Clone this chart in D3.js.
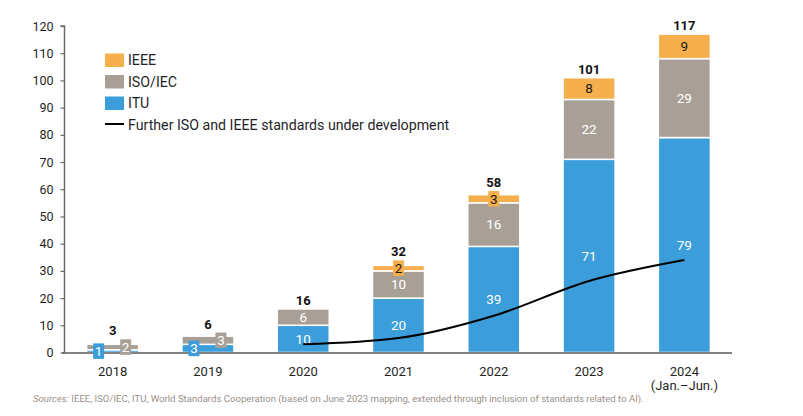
<!DOCTYPE html>
<html>
<head>
<meta charset="utf-8">
<script src="https://cdn.jsdelivr.net/npm/d3@7"></script>
<style>
  html, body { margin: 0; padding: 0; background: #fff; }
  svg { display: block; font-family: Roboto, "Noto Sans", sans-serif; }
</style>
</head>
<body>
<svg id="chart" width="803" height="416"></svg>
<script>
// ---- data ----
const years = ["2018", "2019", "2020", "2021", "2022", "2023", "2024"];
const yearSubLabels = ["", "", "", "", "", "", "(Jan.\u2013Jun.)"];
const ituValues = [1, 3, 10, 20, 39, 71, 79];
const isoValues = [2, 3, 6, 10, 16, 22, 29];
const ieeeValues = [0, 0, 0, 2, 3, 8, 9];
const totals = [3, 6, 16, 32, 58, 101, 117];
const underDevelopment = [null, null, 3, 5.3, 13.5, 26.3, 34];
const yTicks = [0, 10, 20, 30, 40, 50, 60, 70, 80, 90, 100, 110, 120];
const seriesNames = ["ITU", "ISO/IEC", "IEEE"];
const legendLineLabel = "Further ISO and IEEE standards under development";
const sourceText = "IEEE, ISO/IEC, ITU, World Standards Cooperation (based on June 2023 mapping, extended through inclusion of standards related to AI).";

const colors = { "ITU": "#3b9edb", "ISO/IEC": "#a89f97", "IEEE": "#f5af4c" };
const labelColors = { "ITU": "#ffffff", "ISO/IEC": "#ffffff", "IEEE": "#1a1a1a" };
const boxOffsets = { "ITU": -14, "ISO/IEC": 13, "IEEE": 0 };

const svg = d3.select("#chart");

const x = d3.scaleBand().domain(years).range([65, 732]).paddingInner(0.454).paddingOuter(0.227);
const y = d3.scaleLinear().domain([0, 120]).range([352.5, 26]);

// build stacked table
const table = years.map((yr, i) => ({ year: yr, "ITU": ituValues[i], "ISO/IEC": isoValues[i], "IEEE": ieeeValues[i] }));
const stack = d3.stack().keys(seriesNames)(table);

// y axis
const yAxis = d3.axisLeft(y).tickValues(yTicks).tickSize(4).tickPadding(7);
const gy = svg.append("g").attr("transform", "translate(64.5,0)").call(yAxis);
gy.select(".domain").attr("stroke", "#6b6b6b").attr("stroke-width", 1.5).attr("d", `M-4,${y(120)}H0V${y(0)}`);
gy.selectAll(".tick line").attr("stroke", "#6b6b6b").attr("stroke-width", 1.2);
gy.selectAll(".tick text").attr("fill", "#1f1f1f").style("font-size", "12.5px").style("font-family", "Roboto, sans-serif");

// bars
const layers = svg.append("g").selectAll("g").data(stack).join("g")
  .attr("fill", d => colors[d.key]);
layers.selectAll("rect").data(d => d.map(v => Object.assign(v, { key: d.key }))).join("rect")
  .attr("x", d => x(d.data.year))
  .attr("width", x.bandwidth())
  .attr("y", d => y(d[1]))
  .attr("height", d => Math.max(0, y(d[0]) - y(d[1])))
  .attr("stroke", "#ffffff")
  .attr("stroke-width", d => (d[1] - d[0]) > 0 ? 1.5 : 0);

// x axis line
svg.append("line").attr("x1", 62).attr("x2", 732).attr("y1", y(0) + 0.5).attr("y2", y(0) + 0.5)
  .attr("stroke", "#5a5a5a").attr("stroke-width", 1.5);

// segment labels
const boxTops = years.map(() => Infinity);
const labG = svg.append("g");
stack.forEach(layer => {
  layer.forEach((d, i) => {
    const v = d[1] - d[0];
    if (v <= 0) return;
    const cx = x(d.data.year) + x.bandwidth() / 2;
    const cy = (y(d[0]) + y(d[1])) / 2;
    const h = y(d[0]) - y(d[1]);
    if (h < 16) {
      const bx = cx + boxOffsets[layer.key];
      const bw = 11, bh = 15.5;
      labG.append("rect").attr("x", bx - bw / 2).attr("y", cy - bh / 2).attr("width", bw).attr("height", bh)
        .attr("fill", colors[layer.key]);
      boxTops[i] = Math.min(boxTops[i], cy - bh / 2);
      labG.append("text").attr("x", bx).attr("y", cy).attr("dy", "0.36em").attr("text-anchor", "middle")
        .attr("fill", labelColors[layer.key]).style("font-size", "13.5px").text(v);
    } else {
      labG.append("text").attr("x", cx).attr("y", cy).attr("dy", "0.36em").attr("text-anchor", "middle")
        .attr("fill", labelColors[layer.key]).style("font-size", "13.5px").text(v);
    }
  });
});

// totals
svg.append("g").selectAll("text").data(totals).join("text")
  .attr("x", (d, i) => x(years[i]) + x.bandwidth() / 2)
  .attr("y", (d, i) => Math.min(y(d), boxTops[i]) - 4)
  .attr("text-anchor", "middle").attr("fill", "#111").style("font-size", "13px").style("font-weight", "bold")
  .text(d => d);

// x labels
const xl = svg.append("g");
years.forEach((yr, i) => {
  const cx = x(yr) + x.bandwidth() / 2;
  xl.append("text").attr("x", cx).attr("y", 375.5).attr("text-anchor", "middle").attr("fill", "#1f1f1f")
    .style("font-size", "13px").text(yr);
  if (yearSubLabels[i]) {
    xl.append("text").attr("x", cx).attr("y", 390).attr("text-anchor", "middle").attr("fill", "#1f1f1f")
      .style("font-size", "13px").text(yearSubLabels[i]);
  }
});

// line
const lineData = years.map((yr, i) => ({ yr, v: underDevelopment[i] })).filter(d => d.v != null);
const line = d3.line().x(d => x(d.yr) + x.bandwidth() / 2).y(d => y(d.v)).curve(d3.curveMonotoneX);
svg.append("path").datum(lineData).attr("d", line).attr("fill", "none").attr("stroke", "#000").attr("stroke-width", 2);

// legend
const legendItems = [
  { label: "IEEE", color: colors["IEEE"] },
  { label: "ISO/IEC", color: colors["ISO/IEC"] },
  { label: "ITU", color: colors["ITU"] }
];
const lg = svg.append("g");
legendItems.forEach((it, i) => {
  const ty = 53.5 + i * 21.5;
  lg.append("rect").attr("x", 105).attr("y", ty).attr("width", 19).attr("height", 13.5).attr("fill", it.color);
  lg.append("text").attr("x", 128).attr("y", ty + 11.5).attr("fill", "#1f1f2a").style("font-size", "14.2px").text(it.label);
});
lg.append("line").attr("x1", 105).attr("x2", 124).attr("y1", 124).attr("y2", 124).attr("stroke", "#000").attr("stroke-width", 2);
lg.append("text").attr("x", 128).attr("y", 129.5).attr("fill", "#1f1f2a").style("font-size", "14.2px").text(legendLineLabel);

// source
const src = svg.append("text").attr("x", 33).attr("y", 402).attr("fill", "#9a9088").style("font-size", "9.6px");
src.append("tspan").style("font-style", "italic").text("Sources:");
src.append("tspan").text(" " + sourceText);
</script>
</body>
</html>
